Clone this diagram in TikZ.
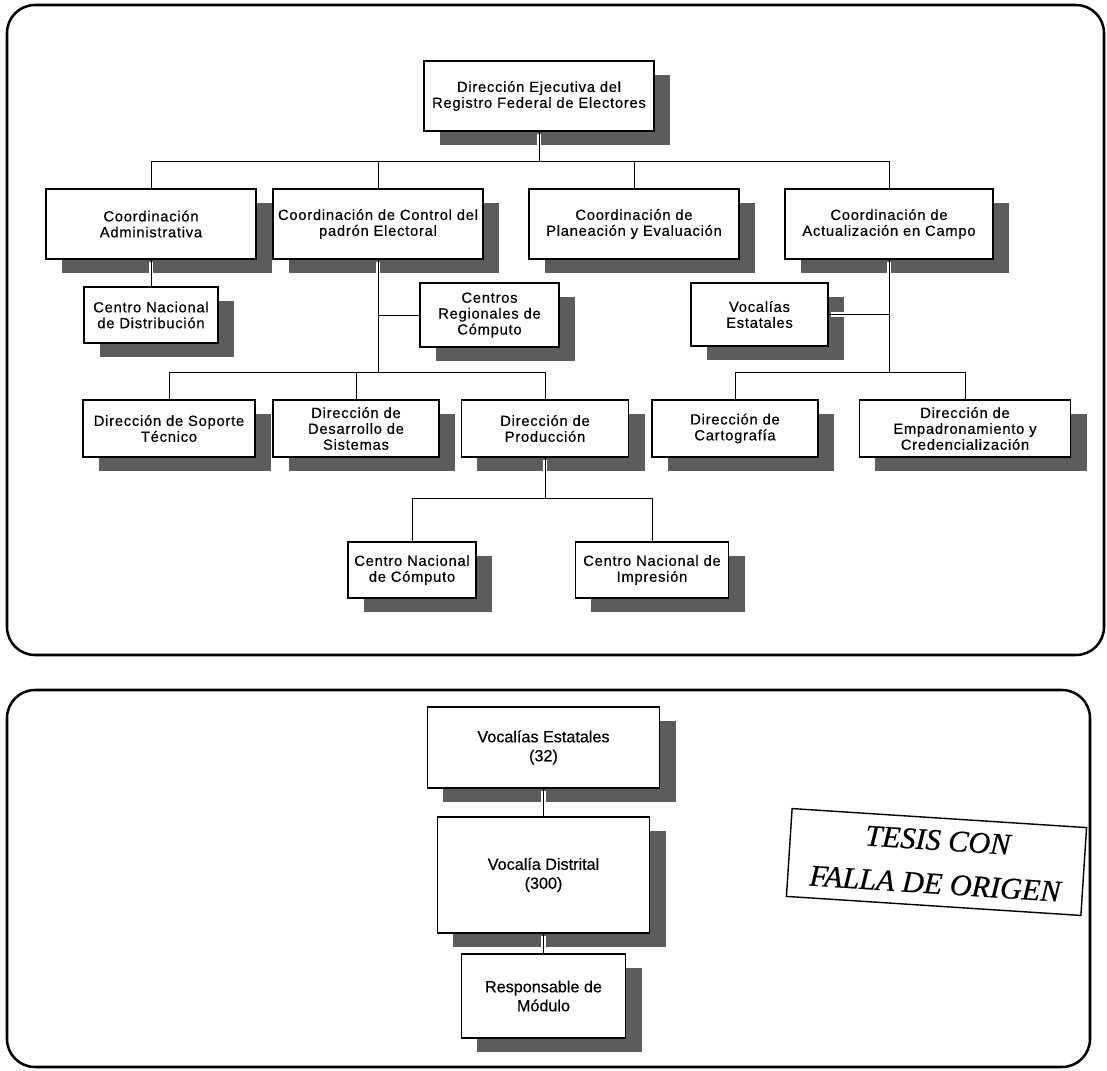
\documentclass[tikz,border=0pt]{standalone}
\usepackage{fontspec}
\setmainfont{Liberation Sans}
\newfontfamily\cajafont[LetterSpace=5,FakeBold=0.4]{Liberation Sans}
\newfontfamily\cajabfont[FakeBold=0.4]{Liberation Sans}
\newfontfamily\sellofont[FakeBold=0.6]{Liberation Serif}
\usetikzlibrary{shadows}

\begin{document}
\begin{tikzpicture}[x=0.025cm,y=-0.025cm,
    caja/.style={draw=cbox,line width=0.9pt,fill=cfbox,align=center,inner sep=0pt,
      font=\cajafont\fontsize{10.5}{11.3}\selectfont,
      drop shadow={shadow xshift=0.4cm,shadow yshift=-0.35cm,fill=csombra,opacity=1}},
    cajab/.style={caja,font=\cajabfont\fontsize{11.5}{13.5}\selectfont},
    marco/.style={draw=cbox,line width=1.8pt,rounded corners=0.7cm},
    hueco/.style={draw=cfbox,line width=3.5pt,shorten <=1.5pt,shorten >=1.5pt},
    enlace/.style={draw=cbox,line width=0.7pt},
    sello/.style={draw=cbox,line width=1pt,rotate=-3.7,align=center,inner sep=0pt,
      font=\sellofont\itshape\fontsize{21.5}{31}\selectfont}]
	\definecolor{cbox}{rgb}{0.0,0.0,0.0}
	\definecolor{cfbox}{rgb}{1.0,1.0,1.0}
	\definecolor{csombra}{rgb}{0.36,0.36,0.36}
	%
	\useasboundingbox (0,0) rectangle (1107,1071);
	\draw[marco] (7,5) rectangle (1104,655);
	\draw[marco] (7,690) rectangle (1090,1067);
	%
	\node[caja,minimum width=5.75cm,minimum height=1.75cm] (dir) at (539,96) {Dirección Ejecutiva del\\Registro Federal de Electores};
	%
	\node[caja,minimum width=5.25cm,minimum height=1.75cm] (adm) at (151,224) {Coordinación\\Administrativa};
	\node[caja,minimum width=5.25cm,minimum height=1.75cm] (ctrl) at (378,224) {Coordinación de Control del\\padrón Electoral};
	\node[caja,minimum width=5.25cm,minimum height=1.75cm] (plan) at (634,224) {Coordinación de\\Planeación y Evaluación};
	\node[caja,minimum width=5.2cm,minimum height=1.75cm] (act) at (889,224) {Coordinación de\\Actualización en Campo};
	%
	\node[caja,minimum width=3.35cm,minimum height=1.4cm] (cnd) at (151,315) {Centro Nacional\\de Distribución};
	\node[caja,minimum width=3.475cm,minimum height=1.6cm] (crc) at (489.5,315) {Centros\\Regionales de\\Cómputo};
	\node[caja,minimum width=3.425cm,minimum height=1.575cm] (ves) at (759.5,314.5) {Vocalías\\Estatales};
	%
	\node[caja,minimum width=4.3cm,minimum height=1.425cm] (dst) at (169,428.5) {Dirección de Soporte\\Técnico};
	\node[caja,minimum width=4.15cm,minimum height=1.425cm] (dds) at (356,428.5) {Dirección de\\Desarrollo de\\Sistemas};
	\node[caja,minimum width=4.175cm,minimum height=1.425cm] (dpr) at (545,428.5) {Dirección de\\Producción};
	\node[caja,minimum width=4.15cm,minimum height=1.425cm] (dca) at (735,428.5) {Dirección de\\Cartografía};
	\node[caja,minimum width=5.275cm,minimum height=1.425cm] (dec) at (965,428.5) {Dirección de\\Empadronamiento y\\Credencialización};
	%
	\node[caja,minimum width=3.2cm,minimum height=1.4cm] (ccp) at (412,570) {Centro Nacional\\de Cómputo};
	\node[caja,minimum width=3.825cm,minimum height=1.4cm] (cim) at (652,570) {Centro Nacional de\\Impresión};
	%
	\node[cajab,minimum width=5.8cm,minimum height=2.025cm] (v32) at (543.5,747.5) {Vocalías Estatales\\(32)};
	\node[cajab,minimum width=5.3cm,minimum height=2.9cm] (vdist) at (543.5,875) {Vocalía Distrital\\(300)};
	\node[cajab,minimum width=4.1cm,minimum height=2.1cm] (resp) at (543.5,996) {Responsable de\\Módulo};
	%
	\node[sello,minimum width=7.375cm,minimum height=2.2cm] (tesis) at (936.5,862) {TESIS CON\\FALLA DE ORIGEN};
	%
	\coordinate (bus0) at (539,161);
	\coordinate (bus1) at (378,372);
	\coordinate (bus2) at (889,372);
	\coordinate (bus3) at (545,498);
	%
	\foreach \estilo in {hueco,enlace}{
		\draw[\estilo] (dir.south) -- (bus0) -| (adm.north);
		\draw[\estilo] (bus0) -| (ctrl.north);
		\draw[\estilo] (bus0) -| (plan.north);
		\draw[\estilo] (bus0) -| (act.north);
		\draw[\estilo] (adm.south) -- (cnd.north);
		\draw[\estilo] (ctrl.south) -- (bus1) -| (dst.north);
		\draw[\estilo] (bus1) -| (dds.north);
		\draw[\estilo] (bus1) -| (dpr.north);
		\draw[\estilo] (crc.west) -- (crc.west -| bus1);
		\draw[\estilo] (act.south) -- (bus2) -| (dca.north);
		\draw[\estilo] (bus2) -| (dec.north);
		\draw[\estilo] (ves.east) -- (ves.east -| bus2);
		\draw[\estilo] (dpr.south) -- (bus3) -| (ccp.north);
		\draw[\estilo] (bus3) -| (cim.north);
		\draw[\estilo] (v32.south) -- (vdist.north);
		\draw[\estilo] (vdist.south) -- (resp.north);
	}
	%
\end{tikzpicture}
\end{document}
